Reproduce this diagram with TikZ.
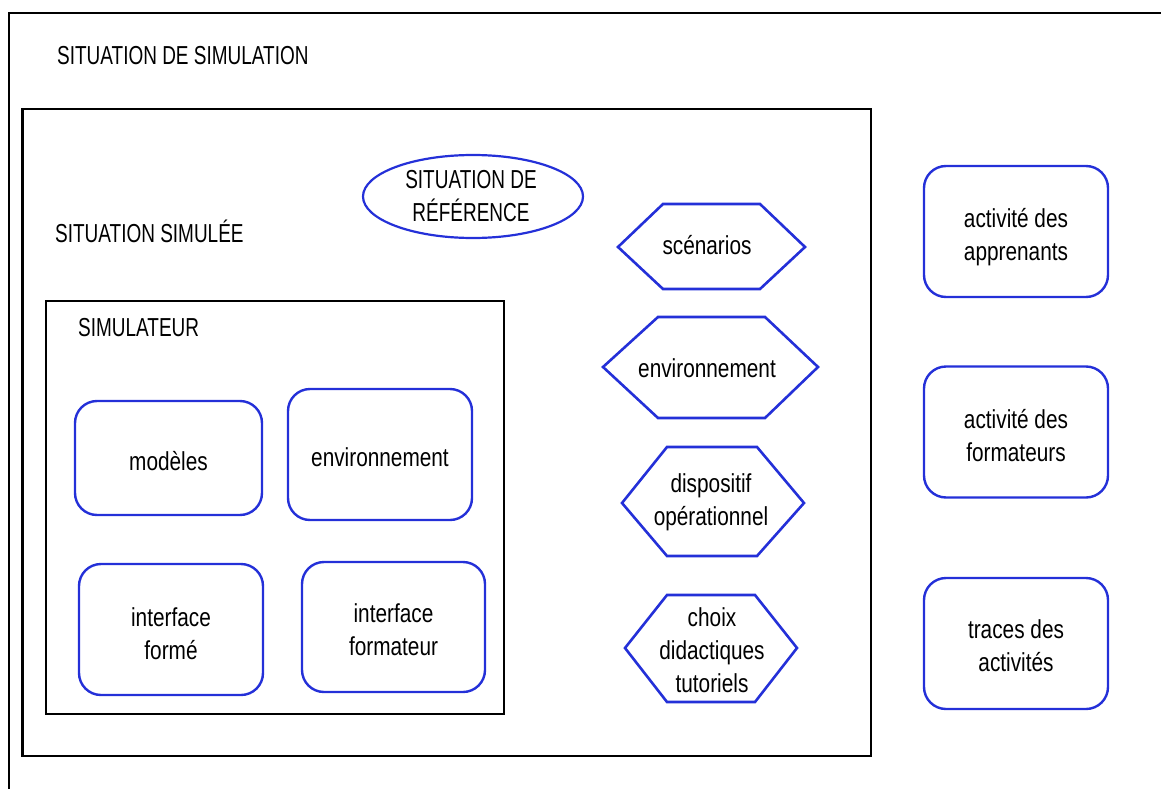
\documentclass[tikz,border=0pt]{standalone}
\usepackage{fontspec}
\setmainfont[FakeStretch=0.8]{Liberation Sans}
\newfontfamily\capsfont[FakeStretch=0.73]{Liberation Sans}
\usetikzlibrary{shapes.geometric}
\definecolor{bl}{RGB}{36,48,216}
\begin{document}
\begin{tikzpicture}[x=1pt,y=-1pt,
  txt/.style={font=\fontsize{26}{33}\selectfont, align=center, inner sep=0pt},
  captxt/.style={font=\capsfont\fontsize{26}{33}\selectfont, align=center, inner sep=0pt},
  rbox/.style={draw=bl, line width=2.4pt, rounded corners=22pt, inner sep=0pt},
  hexa/.style={draw=bl, line width=2.6pt, line join=miter},
  frame/.style={draw=black, line width=2.8pt}]
\useasboundingbox (0,0) rectangle (1161,789);
% outer frame (open to the right and bottom)
\draw[frame] (1161,13) -- (9,13) -- (9,789);
% situation simulee and simulateur frames
\draw[frame] (22.5,109) rectangle (871,756);
\draw[frame] (46,301) rectangle (504,714);
% titles
\node[captxt, anchor=base west] (tsim) at (57,65) {SITUATION DE SIMULATION};
\node[captxt, anchor=base west] (tsimu) at (55,242) {SITUATION SIMULÉE};
\node[captxt, anchor=base west] (tsimr) at (78,336) {SIMULATEUR};
% ellipse
\node[draw=bl, line width=2.2pt, ellipse, minimum width=220pt, minimum height=83pt,
  inner sep=0pt] (ref) at (473,196.5) {};
\node[captxt] (reft) at ([xshift=-2pt]ref.center) {SITUATION DE\\RÉFÉRENCE};
% simulateur boxes
\node[rbox, minimum width=187pt, minimum height=114pt] (mod) at (168.5,458) {};
\node[txt] (modt) at ([yshift=-3pt]mod.center) {modèles};
\node[rbox, minimum width=184pt, minimum height=131pt] (env) at (380,454.5) {};
\node[txt] (envt) at ([yshift=-3pt]env.center) {environnement};
\node[rbox, minimum width=184pt, minimum height=131pt] (ifo) at (171,629.5) {};
\node[txt] (ifot) at ([yshift=-4pt]ifo.center) {interface\\formé};
\node[rbox, minimum width=183pt, minimum height=130pt] (ifr) at (393.5,627) {};
\node[txt] (ifrt) at ([yshift=-3pt]ifr.center) {interface\\formateur};
% right boxes
\node[rbox, minimum width=184pt, minimum height=131pt] (app) at (1016,231.5) {};
\node[txt] (appt) at ([yshift=-6pt]app.center) {activité des\\apprenants};
\node[rbox, minimum width=184pt, minimum height=131pt] (frm) at (1016,432) {};
\node[txt] (frmt) at ([yshift=-4pt]frm.center) {activité des\\formateurs};
\node[rbox, minimum width=184pt, minimum height=131pt] (tra) at (1016,643.5) {};
\node[txt] (trat) at ([yshift=-2pt]tra.center) {traces des\\activités};
% hexagons
\draw[hexa] (618,247) -- (663,204) -- (760,204) -- (805,247) -- (760,289) -- (663,289) -- cycle;
\node[txt] (hsc) at (707,245) {scénarios};
\draw[hexa] (603,367) -- (658,317) -- (765,317) -- (818,367) -- (765,418) -- (658,418) -- cycle;
\node[txt] (hen) at (707,368) {environnement};
\draw[hexa] (622,503) -- (667,447) -- (757,447) -- (804,503) -- (757,556) -- (667,556) -- cycle;
\node[txt] (hdi) at (711,502) {dispositif\\opérationnel};
\draw[hexa] (625,648) -- (667,595) -- (755,595) -- (797,648) -- (755,702) -- (667,702) -- cycle;
\node[txt] (hch) at (712,650) {choix\\didactiques\\tutoriels};
\end{tikzpicture}
\end{document}
